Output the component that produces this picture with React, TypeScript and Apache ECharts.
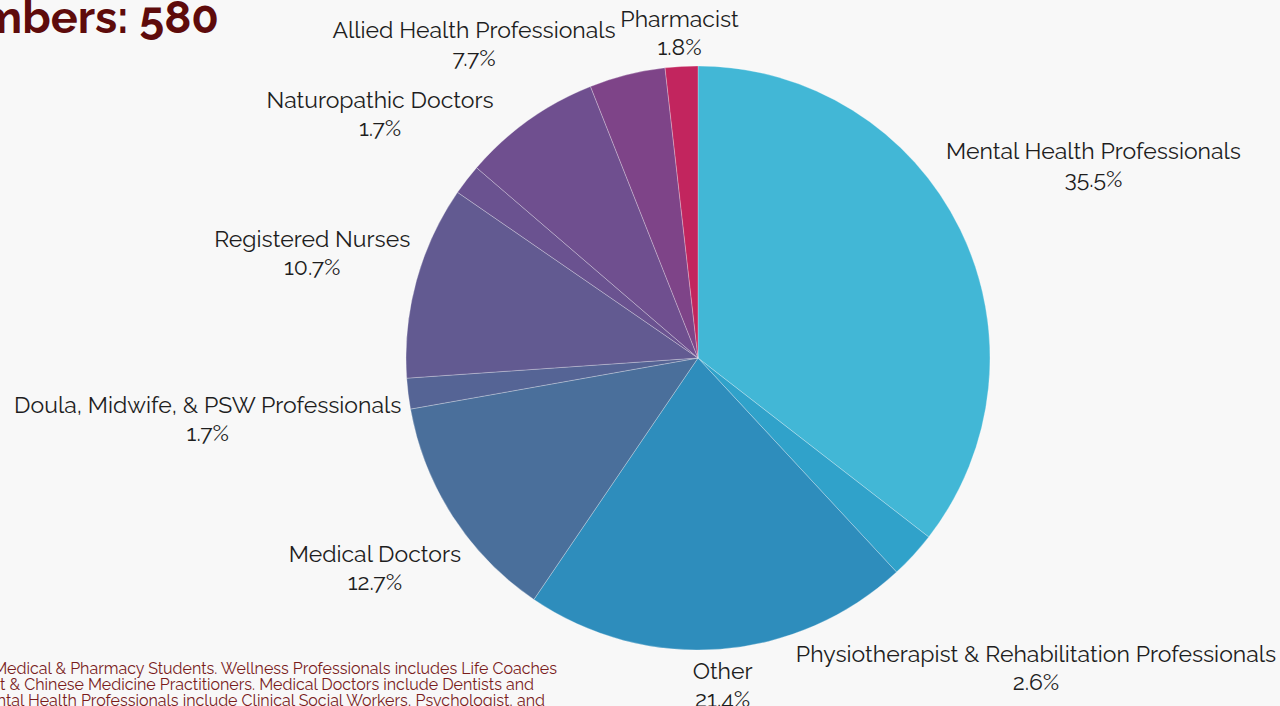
import React, { useEffect, useRef } from "react";
import * as echarts from "echarts";

const categories = [
  "Mental Health Professionals",
  "Physiotherapist & Rehabilitation Professionals",
  "Other",
  "Medical Doctors",
  "Doula, Midwife, & PSW Professionals",
  "Registered Nurses",
  "Naturopathic Doctors",
  "Allied Health Professionals",
  "Wellness Professionals",
  "Pharmacist",
];
const values = [35.5, 2.6, 21.4, 12.7, 1.7, 10.7, 1.7, 7.7, 4.2, 1.8];
const colors = [
  "#42b7d6",
  "#30a2ca",
  "#2e8dbc",
  "#4a6f9b",
  "#556495",
  "#625a91",
  "#6a5290",
  "#6f4f8f",
  "#7e4488",
  "#c2255e",
];
const hiddenLabels = ["Wellness Professionals"];

const titleText = "Total Members: 580";
const footnoteLines = [
  "*Other includes Medical & Pharmacy Students. Wellness Professionals includes Life Coaches",
  "and Acupuncturist & Chinese Medicine Practitioners. Medical Doctors include Dentists and",
  "Optometrists. Mental Health Professionals include Clinical Social Workers, Psychologist, and",
];
const footnoteRightEdges = [557, 534, 545];

const CX = 698;
const CY = 358;
const R = 292;
const GAP = 6;

export default function App() {
  const ref = useRef<HTMLDivElement>(null);
  useEffect(() => {
    if (!ref.current) return;
    const chart = echarts.init(ref.current, null, { renderer: "svg" });
    const total = values.reduce((a, b) => a + b, 0);
    const mids: number[] = [];
    let cum = 0;
    values.forEach((v) => {
      mids.push(((cum + v / 2) / total) * Math.PI * 2);
      cum += v;
    });
    const font = "Raleway, Lato, 'Open Sans', sans-serif";
    chart.setOption({
      animation: false,
      backgroundColor: "#f8f8f8",
      graphic: [
        {
          type: "text",
          x: 219,
          y: -5,
          style: {
            text: titleText,
            align: "right",
            verticalAlign: "top",
            fontSize: 45,
            fontWeight: "bold",
            fontFamily: font,
            fill: "#5e0b0b",
          },
        },
        ...footnoteLines.map((t, i) => ({
          type: "text",
          x: footnoteRightEdges[i],
          y: 661 + i * 16,
          style: {
            text: t,
            align: "right",
            verticalAlign: "top",
            fontSize: 16,
            lineHeight: 15,
            fontFamily: font,
            fill: "#7a1c1c",
          },
        })),
      ],
      series: [
        {
          type: "pie",
          center: [CX, CY],
          radius: R,
          startAngle: 90,
          clockwise: true,
          avoidLabelOverlap: false,
          itemStyle: { borderColor: "rgba(255,255,255,0.45)", borderWidth: 0.6 },
          label: {
            show: true,
            position: "outside",
            formatter: "{b}\n{d}%",
            fontSize: 23,
            lineHeight: 28,
            fontFamily: font,
            color: "#1e1e1e",
            align: "center",
          },
          labelLine: { show: false },
          emphasis: { disabled: true },
          labelLayout: (p: any) => {
            const a = mids[p.dataIndex];
            const dx = Math.sin(a);
            const dy = -Math.cos(a);
            const w = p.labelRect.width;
            const h = p.labelRect.height;
            const dist = (t: number) => {
              const cx = t * dx;
              const cy = t * dy;
              return Math.hypot(
                Math.max(Math.abs(cx) - w / 2, 0),
                Math.max(Math.abs(cy) - h / 2, 0)
              );
            };
            let lo = 0;
            let hi = 3000;
            for (let k = 0; k < 60; k++) {
              const m = (lo + hi) / 2;
              if (dist(m) < R + GAP) lo = m;
              else hi = m;
            }
            const t = (lo + hi) / 2;
            return {
              x: CX + t * dx,
              y: CY + t * dy,
              align: "center",
              verticalAlign: "middle",
            };
          },
          data: categories.map((c, i) => ({
            name: c,
            value: values[i],
            itemStyle: { color: colors[i] },
            label: { show: !hiddenLabels.includes(c) },
          })),
        },
      ],
    });
    return () => chart.dispose();
  }, []);
  return (
    <div
      ref={ref}
      style={{ position: "fixed", left: 0, top: 0, width: 1280, height: 706 }}
    />
  );
}
